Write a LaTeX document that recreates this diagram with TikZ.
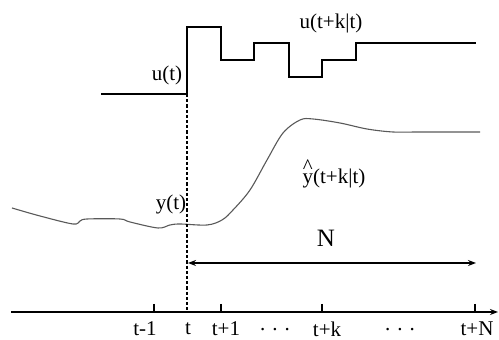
\documentclass[tikz,border=0pt]{standalone}
\usepackage{fontspec}
\setmainfont{Liberation Serif}
\usetikzlibrary{arrows.meta}
\begin{document}
\begin{tikzpicture}[x=0.5pt,y=-0.5pt,
  sig/.style={line width=0.9pt,line join=miter},
  outp/.style={line width=0.55pt,black!65},
  axisline/.style={line width=0.8pt},
  tickmark/.style={line width=0.8pt},
  lbl/.style={inner sep=0pt,font=\fontsize{10.5}{12}\selectfont},
  biglbl/.style={inner sep=0pt,font=\fontsize{12.5}{14}\selectfont},
  nowline/.style={line width=0.8pt,dash pattern=on 1.6pt off 1pt},
  tip/.style={-{Stealth[length=4pt,width=3pt]}}
]
\useasboundingbox (0,0) rectangle (499,340);
% coordinates
\coordinate (ax0) at (11,312);
\coordinate (ax1) at (498,312);
\coordinate (now) at (187,312);
\coordinate (nowtop) at (187,94);
\coordinate (nl) at (188,263);
\coordinate (nr) at (476,263);
% input signal u
\draw[sig] (101,94) -- (187,94) -- (187,27) -- (221,27) -- (221,60) -- (254,60)
  -- (254,43) -- (289,43) -- (289,77) -- (322,77) -- (322,60) -- (356,60)
  -- (356,43) -- (476,43);
% output y
\draw[outp] plot[smooth,tension=0.55] coordinates {
 (12,208) (40,216) (73,224) (80,221) (87,219) (120,219) (130,222) (158,228)
 (170,225) (180,224) (207,225) (222,220) (233,210) (250,190) (267,160)
 (283,133) (300,120) (313,119) (340,123) (367,129) (393,132) (420,132) (480,132)};
% now line
\draw[nowline] (nowtop) -- (now);
% axis
\draw[axisline,tip] (ax0) -- (ax1);
\foreach \x/\n in {154/a,221/b,322/c,475/d}
  \draw[tickmark] (\x,304) coordinate (tk\n) -- (\x,312);
% horizon arrow
\draw[line width=0.8pt,{Stealth[length=4pt,width=3pt]}-{Stealth[length=4pt,width=3pt]}] (nl) -- (nr);
% labels
\node[lbl] (lu) at (167,75) {u(t)};
\node[lbl] (luk) at (331,23) {u(t+k|t)};
\node[lbl] (ly) at (171,204) {y(t)};
\node[lbl] (lyh) at (334,174) {{\setbox0\hbox{y}\rlap{\hbox to\wd0{\hss\raisebox{1.05ex}{\^{}}\hss}}y}(t+k|t)};
\node[biglbl] (lN) at (326,238) {N};
\node[lbl] (t1) at (145,329) {t-1};
\node[lbl] (t0) at (188,329) {t};
\node[lbl] (t2) at (226,329) {t+1};
\node[lbl] (d1) at (275,330) {. . .};
\node[lbl] (t3) at (327,329) {t+k};
\node[lbl] (d2) at (400,330) {. . .};
\node[lbl] (t4) at (477,329) {t+N};
\end{tikzpicture}
\end{document}
